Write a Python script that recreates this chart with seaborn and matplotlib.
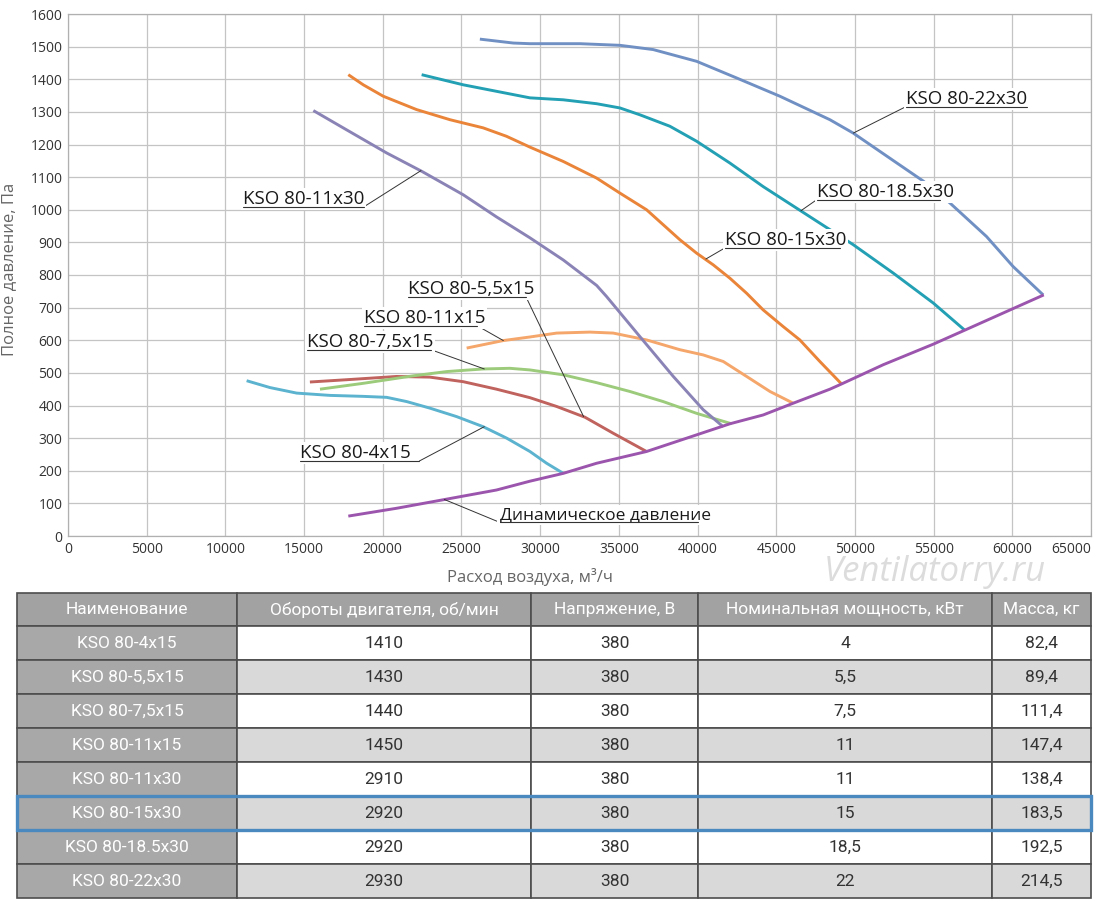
import numpy as np
import pandas as pd
import matplotlib
matplotlib.use("Agg")
import matplotlib.pyplot as plt
from matplotlib.patches import Rectangle
import seaborn as sns

# fan curves, air flow (m3/h) vs total pressure (Pa)
q_4x15 = [11350, 12830, 14530, 16640, 18760, 20250, 21520, 22990, 24690, 26380, 27870, 29350, 30410, 31470]
p_4x15 = [476, 455, 438, 431, 428, 425, 412, 392, 366, 335, 300, 259, 223, 192]

q_55x15 = [15370, 17700, 20880, 22990, 25110, 27230, 29350, 31050, 32850, 34640, 36760]
p_55x15 = [472, 479, 489, 487, 473, 450, 424, 397, 364, 315, 259]

q_75x15 = [16010, 18760, 21940, 24060, 26380, 28080, 29350, 31470, 33590, 35700, 37820, 39940, 42160]
p_75x15 = [450, 468, 491, 504, 512, 514, 509, 494, 470, 443, 412, 376, 344]

q_11x15 = [25330, 27650, 29350, 31050, 33160, 34640, 36760, 38880, 40360, 41630, 43120, 44600, 46080]
p_11x15 = [576, 599, 610, 622, 625, 622, 601, 571, 555, 535, 489, 443, 407]

q_11x30 = [15590, 17700, 20250, 22470, 25110, 27230, 29350, 31470, 33590, 34220, 36340, 38460, 40360, 41630]
p_11x30 = [1304, 1245, 1174, 1118, 1046, 978, 914, 846, 768, 734, 611, 489, 387, 335]

q_15x30 = [17810, 18760, 20030, 22150, 24270, 26380, 27870, 29350, 31470, 33590, 35070, 36760,
           37820, 38880, 39940, 41000, 42060, 43120, 44170, 45440, 46500, 47770, 49150]
p_15x30 = [1414, 1383, 1348, 1307, 1276, 1251, 1225, 1192, 1148, 1097, 1051, 1000,
           954, 908, 867, 831, 790, 744, 693, 642, 601, 535, 466]

q_185x30 = [22470, 25110, 27230, 29350, 31470, 33590, 35070, 36340, 38240, 39940, 42060,
            44170, 46290, 48410, 49890, 52430, 54980, 56950]
p_185x30 = [1414, 1383, 1363, 1343, 1337, 1325, 1312, 1291, 1256, 1210, 1143,
            1071, 1005, 939, 893, 806, 714, 632]

q_22x30 = [26170, 28290, 29350, 32530, 35070, 37180, 39940, 42480, 45230, 48410, 49890,
           52430, 54340, 56030, 58360, 60050, 61960]
p_22x30 = [1523, 1511, 1509, 1509, 1504, 1491, 1455, 1404, 1348, 1276, 1235,
           1151, 1088, 1021, 918, 826, 739]

q_dyn = [17810, 20880, 24060, 27230, 29350, 31470, 33590, 36760, 39940, 42060, 44170,
         46080, 48410, 49150, 51800, 54980, 57030, 59630, 62000]
p_dyn = [61, 85, 113, 141, 168, 192, 223, 259, 310, 344, 371,
         407, 450, 466, 525, 588, 632, 688, 739]

# table
headers = ["Наименование", "Обороты двигателя, об/мин", "Напряжение, В",
           "Номинальная мощность, кВт", "Масса, кг"]
names = ["KSO 80-4x15", "KSO 80-5,5x15", "KSO 80-7,5x15", "KSO 80-11x15",
         "KSO 80-11x30", "KSO 80-15x30", "KSO 80-18.5x30", "KSO 80-22x30"]
rpm = ["1410", "1430", "1440", "1450", "2910", "2920", "2920", "2930"]
voltage = ["380", "380", "380", "380", "380", "380", "380", "380"]
power = ["4", "5,5", "7,5", "11", "11", "15", "18,5", "22"]
mass = ["82,4", "89,4", "111,4", "147,4", "138,4", "183,5", "192,5", "214,5"]

series = [
    ("4x15", q_4x15, p_4x15, "#5bb3cf"),
    ("5,5x15", q_55x15, p_55x15, "#c0625d"),
    ("7,5x15", q_75x15, p_75x15, "#9ccb7b"),
    ("11x15", q_11x15, p_11x15, "#f5a66a"),
    ("11x30", q_11x30, p_11x30, "#8a83b5"),
    ("15x30", q_15x30, p_15x30, "#ea8439"),
    ("18.5x30", q_185x30, p_185x30, "#23a0b4"),
    ("22x30", q_22x30, p_22x30, "#7090c4"),
    ("dyn", q_dyn, p_dyn, "#9b55ad"),
]

df = pd.concat([pd.DataFrame({"model": n, "Q": q, "P": p}) for n, q, p, _ in series])
palette = {n: c for n, _, _, c in series}

sns.set_theme(style="whitegrid")
plt.rcParams["font.family"] = ["Open Sans", "DejaVu Sans"]

fig = plt.figure(figsize=(11, 9.02), dpi=100)
ax = fig.add_axes([68 / 1100, 1 - 536 / 902, 1023 / 1100, 522 / 902])

sns.lineplot(data=df, x="Q", y="P", hue="model", palette=palette, sort=False,
             estimator=None, legend=False, linewidth=2.1, ax=ax, zorder=2,
             solid_joinstyle="round", solid_capstyle="butt")

ax.set_xlim(0, 65000)
ax.set_ylim(0, 1600)
ax.set_xticks(np.arange(0, 65001, 5000))
ax.set_yticks(np.arange(0, 1601, 100))
ax.grid(True, color="#c4c4c4", linewidth=0.9)
for s in ax.spines.values():
    s.set_color("#b0b0b0")
    s.set_linewidth(0.9)
ax.tick_params(axis="both", length=0, labelsize=10, colors="#333333", pad=4)
ax.get_xticklabels()[-1].set_ha("right")
ax.set_xlabel("Расход воздуха, м³/ч", fontsize=12, color="#666666")
ax.set_ylabel("Полное давление, Па", fontsize=12, color="#666666")
ax.xaxis.set_label_coords(0.452, -0.062)
ax.yaxis.set_label_coords(-0.05, 0.51)


def callout(text, x0, x1, y, tip, side, size=13.5):
    ax.text(x0, y + 9, text, ha="left", va="baseline", fontsize=size, color="#1a1a1a",
            bbox=dict(fc="white", ec="none", pad=1.5), zorder=5)
    ax.plot([x0, x1], [y, y], color="#333333", lw=0.8, zorder=6)
    start = x1 if side == "right" else x0
    ax.plot([start, tip[0]], [y, tip[1]], color="#333333", lw=0.7, zorder=4)


callout("KSO 80-11x30", 11120, 18800, 1009, (22430, 1120), "right")
callout("KSO 80-22x30", 53240, 60930, 1316, (49900, 1235), "left")
callout("KSO 80-18.5x30", 47580, 55400, 1031, (46570, 997), "left")
callout("KSO 80-15x30", 41740, 49040, 883, (40530, 849), "left")
callout("KSO 80-5,5x15", 21600, 29100, 733, (32760, 366), "right")
callout("KSO 80-11x15", 18800, 25980, 645, (27660, 599), "right")
callout("KSO 80-7,5x15", 15180, 23060, 571, (26450, 512), "right")
callout("KSO 80-4x15", 14740, 22330, 230, (26450, 335), "right")
callout("Динамическое давление", 27420, 40020, 42, (23910, 112), "left", size=12.5)

# table drawn in pixel space
tax = fig.add_axes([0, 0, 1, 1])
tax.set_xlim(0, 1100)
tax.set_ylim(902, 0)
tax.axis("off")
tax.patch.set_alpha(0)

col_x = [17, 237, 531, 698, 992, 1091]
row_y = [593, 626, 660, 694, 728, 762, 796, 830, 864, 898]
narrow = ["Roboto", "DejaVu Sans"]

tax.text(935, 572, "Ventilatorry.ru", ha="center", va="center", fontsize=25,
         style="italic", color="#dcdcdc", zorder=1)

rows = [headers] + [[names[i], rpm[i], voltage[i], power[i], mass[i]] for i in range(len(names))]
for r, row in enumerate(rows):
    y0, y1 = row_y[r], row_y[r + 1]
    for c, val in enumerate(row):
        x0, x1 = col_x[c], col_x[c + 1]
        if r == 0:
            fc, tc = "#a2a2a2", "white"
        elif c == 0:
            fc, tc = "#a8a8a8", "white"
        else:
            fc = "#d9d9d9" if r % 2 == 0 else "white"
            tc = "#333333"
        tax.add_patch(Rectangle((x0, y0), x1 - x0, y1 - y0, fc=fc, ec="#4d4d4d", lw=1.2, zorder=2))
        tax.text((x0 + x1) / 2, (y0 + y1) / 2, val, ha="center", va="center",
                 fontsize=12.5, color=tc, family=narrow, zorder=3)

hl = names.index("KSO 80-15x30") + 1
tax.add_patch(Rectangle((col_x[0], row_y[hl]), col_x[-1] - col_x[0], row_y[hl + 1] - row_y[hl],
                        fc="none", ec="#4a89bf", lw=2.4, zorder=4))

fig.savefig("out.png", dpi=100)
